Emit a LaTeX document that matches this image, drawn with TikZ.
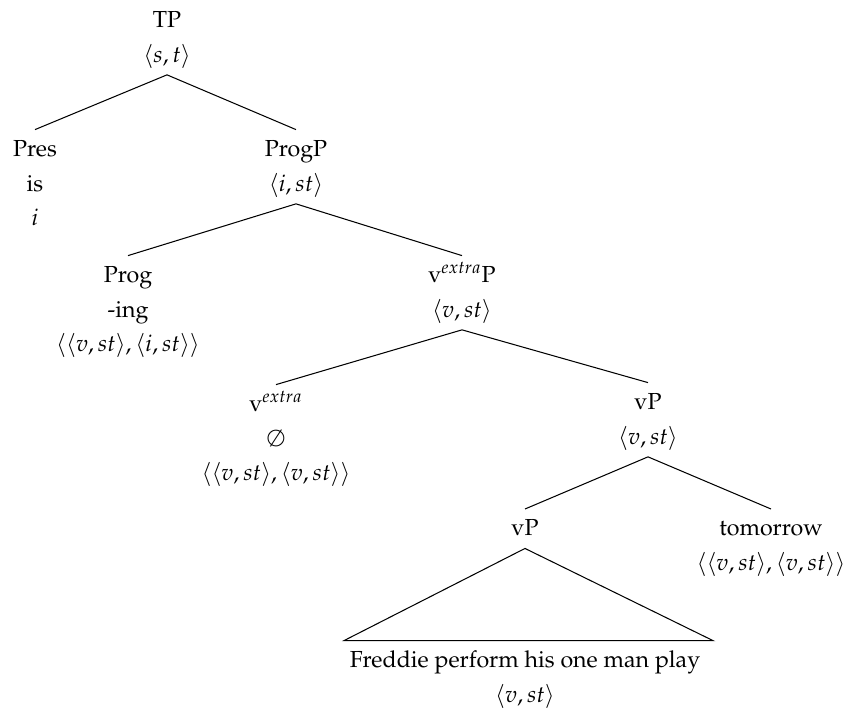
\documentclass[tikz,border=0pt]{standalone}
\usepackage[T1]{fontenc}
\usepackage{mathpazo}
\usetikzlibrary{calc}
\begin{document}
\begin{tikzpicture}[x=0.431pt,y=-0.431pt,
  tn/.style={align=center, anchor=north, inner sep=0pt, outer xsep=0pt, outer ysep=1pt,
             font=\fontsize{10}{15}\selectfont},
  branch/.style={line width=0.45pt}]
\useasboundingbox (0,0) rectangle (853,707);
\node[tn] (tp)    at (167,0.6)   {TP\strut\\$\langle s,t\rangle$\strut};
\node[tn] (pres)  at (35,129.6)  {Pres\strut\\is\strut\\$i$\strut};
\node[tn] (progp) at (296,129.6) {ProgP\strut\\$\langle i,st\rangle$\strut};
\node[tn] (prog)  at (128,255.6) {Prog\strut\\-ing\strut\\$\langle\langle v,st\rangle,\langle i,st\rangle\rangle$\strut};
\node[tn] (vxp)   at (462,255.6) {v$^{extra}$P\strut\\$\langle v,st\rangle$\strut};
\node[tn] (vx)    at (276,384.6) {v$^{extra}$\strut\\$\emptyset$\strut\\$\langle\langle v,st\rangle,\langle v,st\rangle\rangle$\strut};
\node[tn] (vp)    at (648,382.6) {vP\strut\\$\langle v,st\rangle$\strut};
\node[tn] (vpl)   at (525,509)   {vP\strut};
\node[tn] (tom)   at (771,509)   {tomorrow\strut\\$\langle\langle v,st\rangle,\langle v,st\rangle\rangle$\strut};
\node[tn] (fred)  at (525,640.6) {Freddie perform his one man play\strut\\$\langle v,st\rangle$\strut};
\draw[branch] (tp.south) -- (pres.north);
\draw[branch] (tp.south) -- (progp.north);
\draw[branch] (progp.south) -- (prog.north);
\draw[branch] (progp.south) -- (vxp.north);
\draw[branch] (vxp.south) -- (vx.north);
\draw[branch] (vxp.south) -- (vp.north);
\draw[branch] (vp.south) -- (vpl.north);
\draw[branch] (vp.south) -- (tom.north);
\draw[branch] (vpl.south) -- ($(fred.north)+(-181,0)$) -- ($(fred.north)+(188,0)$) -- cycle;
\end{tikzpicture}
\end{document}
